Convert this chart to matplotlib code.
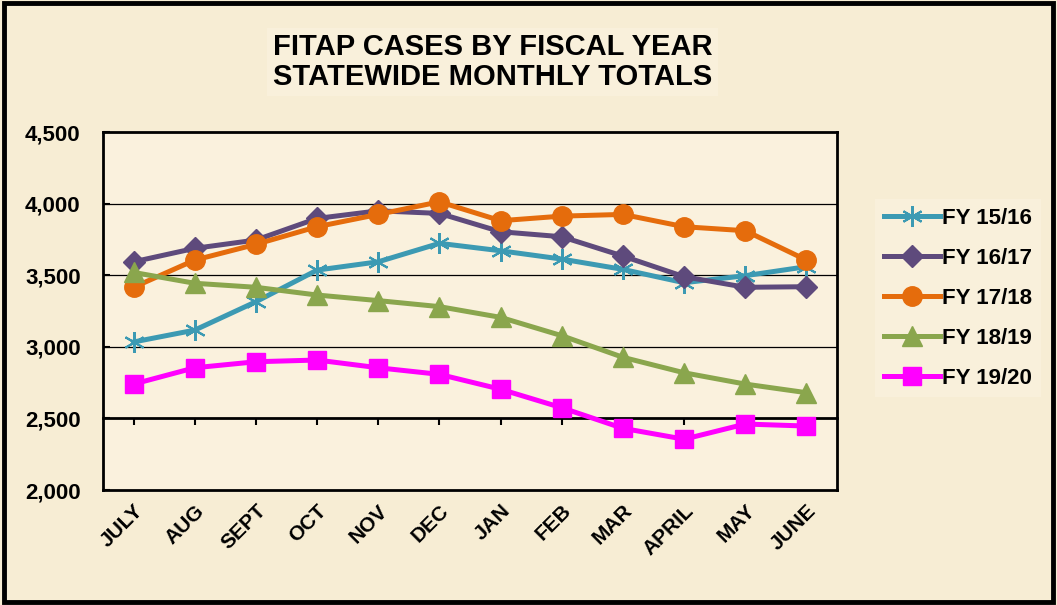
# FITAP cases by fiscal year - statewide monthly totals

import matplotlib
matplotlib.use("Agg")
import matplotlib.pyplot as plt
from matplotlib.patches import Rectangle
from matplotlib.ticker import FuncFormatter

plt.rcParams['font.family'] = ['Liberation Sans', 'DejaVu Sans']
plt.rcParams['font.weight'] = 'bold'

# Data

months = ['JULY', 'AUG', 'SEPT', 'OCT', 'NOV', 'DEC',
          'JAN', 'FEB', 'MAR', 'APRIL', 'MAY', 'JUNE']

fy_15_16 = [3034, 3117, 3315, 3536, 3594, 3723, 3671, 3613, 3541, 3448, 3497, 3560]
fy_16_17 = [3594, 3688, 3746, 3897, 3950, 3932, 3804, 3769, 3634, 3490, 3416, 3420]
fy_17_18 = [3416, 3606, 3716, 3839, 3925, 4013, 3881, 3913, 3925, 3839, 3811, 3606]
fy_18_19 = [3520, 3444, 3416, 3362, 3323, 3281, 3206, 3078, 2927, 2819, 2740, 2680]
fy_19_20 = [2740, 2854, 2896, 2908, 2854, 2808, 2704, 2575, 2431, 2355, 2461, 2447]

labels = ['FY 15/16', 'FY 16/17', 'FY 17/18', 'FY 18/19', 'FY 19/20']

# Figure and plot area

bg = '#F7EDD4'
fig = plt.figure(figsize=(10.57, 6.05), dpi=100, facecolor=bg)
ax = fig.add_axes([0.0974, 0.19, 0.6945, 0.5917])
ax.set_facecolor('#FAF1DD')

x = list(range(len(months)))

ax.plot(x, fy_15_16, color='#3C9AB3', lw=3.6, marker=(6, 2, 0), ms=15, mew=1.5,
        label=labels[0])
ax.plot(x, fy_16_17, color='#5E4A7C', lw=3.6, marker='D', ms=11, label=labels[1])
ax.plot(x, fy_17_18, color='#E56C0C', lw=3.6, marker='o', ms=14, label=labels[2])
ax.plot(x, fy_18_19, color='#8AA64D', lw=3.6, marker='^', ms=14, label=labels[3])
ax.plot(x, fy_19_20, color='#FF00FF', lw=3.6, marker='s', ms=13, label=labels[4])

ax.set_xlim(-0.5, 11.5)
ax.set_ylim(2000, 4500)
ax.set_yticks([2000, 2500, 3000, 3500, 4000, 4500])
ax.yaxis.set_major_formatter(FuncFormatter(lambda v, p: f'{int(v):,}'))

for g in [3000, 3500, 4000]:
    ax.axhline(g, color='black', lw=0.9, zorder=1)

for s in ax.spines.values():
    s.set_linewidth(2)
    s.set_color('black')

ax.tick_params(axis='y', direction='in', length=5, width=1.5, pad=16, labelsize=16)
ax.tick_params(axis='x', length=0, pad=8, labelsize=15)
ax.set_xticks(x)
ax.set_xticklabels(months, rotation=45, ha='right', rotation_mode='anchor')
for t in ax.get_yticklabels() + ax.get_xticklabels():
    t.set_fontweight('bold')

# horizontal category axis crosses at 2,500
sec = ax.secondary_xaxis(0.2)
sec.set_xticks(x)
sec.tick_params(axis='x', direction='out', length=5, width=1.5, labelbottom=False)
sec.spines['bottom'].set_linewidth(2)

# Title

fig.text(0.466, 1 - 62 / 605, 'FITAP CASES BY FISCAL YEAR\nSTATEWIDE MONTHLY TOTALS',
         ha='center', va='center', fontsize=21, fontweight='bold', linespacing=1.05,
         bbox=dict(facecolor='#F9F0DB', edgecolor='none', pad=4))

# Legend

leg = fig.legend(loc='center left', bbox_to_anchor=(0.8174, 0.507),
                 bbox_transform=fig.transFigure, fontsize=16, frameon=True,
                 facecolor='#F9F0DB', edgecolor='none', framealpha=1,
                 handlelength=2.5, handletextpad=0.1, labelspacing=0.85,
                 borderpad=0.4, numpoints=1, fancybox=False)
for t in leg.get_texts():
    t.set_fontweight('bold')

# Outer frame
fig.patches.append(Rectangle((0.004, 0.005), 0.992, 0.99, transform=fig.transFigure,
                             fill=False, edgecolor='black', lw=3.5))

fig.savefig('out.png', dpi=100, facecolor=bg)
